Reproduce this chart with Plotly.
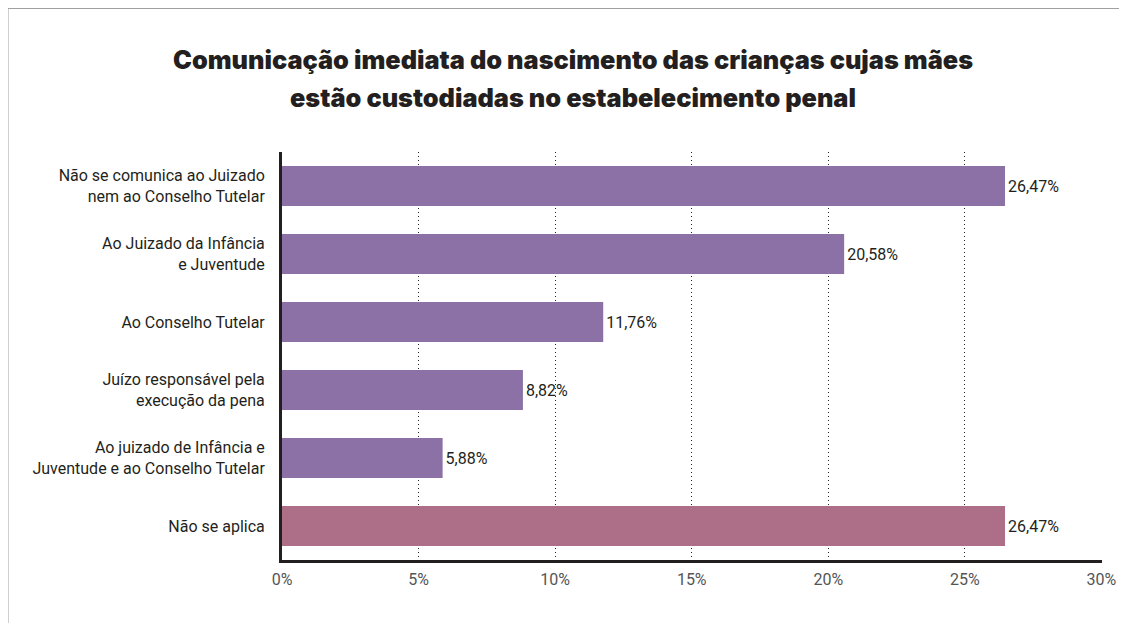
import plotly.graph_objects as go

title_lines = [
    "Comunicação imediata do nascimento das crianças cujas mães",
    "estão custodiadas no estabelecimento penal",
]
categories = [
    "Não se comunica ao Juizado<br>nem ao Conselho Tutelar",
    "Ao Juizado da Infância<br>e Juventude",
    "Ao Conselho Tutelar",
    "Juízo responsável pela<br>execução da pena",
    "Ao juizado de Infância e<br>Juventude e ao Conselho Tutelar",
    "Não se aplica",
]
values = [26.47, 20.58, 11.76, 8.82, 5.88, 26.47]
bar_colors = ["#8B71A5", "#8B71A5", "#8B71A5", "#8B71A5", "#8B71A5", "#AC6F87"]
x_ticks = [0, 5, 10, 15, 20, 25, 30]
x_tick_text = [f"{v}%" for v in x_ticks]

W, H = 1127, 623
# page is offset by the 8px body margin, so figure coords = page coords - 8
L, R, T, B = 274, 33, 144, 71
pw, ph = W - L - R, H - T - B

def px_x(p):
    return (p - L) / pw

def px_y(p):
    return (H - B - p) / ph

fig = go.Figure(go.Bar(
    x=values,
    y=categories,
    orientation="h",
    marker=dict(color=bar_colors, line=dict(width=0)),
    texttemplate="%{x:.2f}%",
    textposition="outside",
    textfont=dict(size=16, color="#231f20", family="Roboto"),
    cliponaxis=False,
    width=0.59,
))

title_font = dict(family="Inter", size=25.3, color="#231f20", weight=900)
annotations = [
    dict(text=line, xref="paper", yref="paper",
         x=px_x(565), y=px_y(yc), xanchor="center", yanchor="middle",
         showarrow=False, font=title_font)
    for line, yc in zip(title_lines, [52, 89])
]

fig.update_layout(
    width=W, height=H,
    margin=dict(l=L, r=R, t=T, b=B),
    paper_bgcolor="white",
    plot_bgcolor="white",
    separators=",.",
    showlegend=False,
    annotations=annotations,
    xaxis=dict(
        range=[0, 30.02],
        tickvals=x_ticks,
        ticktext=x_tick_text,
        showgrid=True,
        gridcolor="#231f20",
        griddash="1px,3px",
        gridwidth=1,
        zeroline=False,
        showline=True,
        linecolor="#231f20",
        linewidth=3,
        tickfont=dict(family="Roboto", size=16, color="#555555"),
        ticks="outside",
        ticklen=3,
        tickcolor="rgba(0,0,0,0)",
        layer="above traces",
    ),
    yaxis=dict(
        categoryorder="array",
        categoryarray=categories[::-1],
        autorange=False,
        range=[-0.5, 5.5],
        showline=True,
        linecolor="#231f20",
        linewidth=3,
        showgrid=False,
        zeroline=False,
        ticks="outside",
        ticklen=11,
        tickcolor="rgba(0,0,0,0)",
        tickfont=dict(family="Roboto", size=16, color="#231f20"),
    ),
    shapes=[
        dict(type="line", xref="paper", yref="paper",
             x0=px_x(0), x1=px_x(1200), y0=px_y(0.5), y1=px_y(0.5),
             line=dict(color="#a0a0a0", width=1)),
        dict(type="line", xref="paper", yref="paper",
             x0=px_x(0), x1=px_x(0), y0=px_y(0), y1=px_y(640),
             line=dict(color="#a0a0a0", width=1)),
    ],
)

fig.write_html("out.html")
